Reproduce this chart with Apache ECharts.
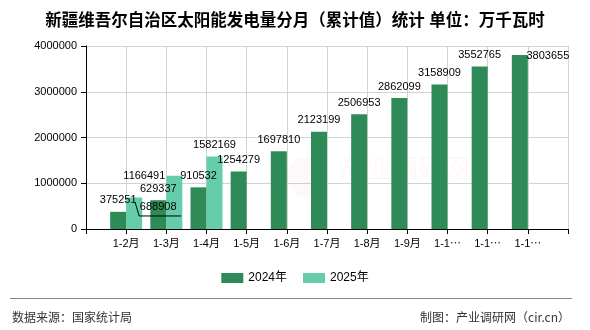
<!DOCTYPE html>
<html>
<head>
<meta charset="utf-8">
<script src="https://cdn.jsdelivr.net/npm/echarts@6/dist/echarts.min.js"></script>
<style>
html,body{margin:0;padding:0;background:#fff;}
#chart{width:590px;height:330px;}
</style>
</head>
<body>
<div id="chart"></div>
<script>
// ---- data ----
const titleText = '新疆维吾尔自治区太阳能发电量分月（累计值）统计 单位：万千瓦时';
const months = ['1-2月','1-3月','1-4月','1-5月','1-6月','1-7月','1-8月','1-9月','1-10月','1-11月','1-12月'];
const values2024 = [375251, 629337, 910532, 1254279, 1697810, 2123199, 2506953, 2862099, 3158909, 3552765, 3803655];
const values2025 = [688908, 1166491, 1582169];
const seriesNames = ['2024年', '2025年'];
const yTicks = [0, 1000000, 2000000, 3000000, 4000000];
const sourceText = '数据来源：国家统计局';
const creditText = '制图：产业调研网（cir.cn）';

// ---- build ----
const FONT = "'Liberation Sans', 'Noto Sans CJK SC', sans-serif";
const categories = [''].concat(months, ['']);
// label nudges (the reference has a few hand-moved labels)
const shift2024 = {'1-12月': [28, 12]};
const shift2025 = {'1-2月': [24, 21], '1-3月': [-30, 12]};
const leaderMonth = '1-2月';

function pad(vals) {
  const out = ['-'];
  for (let i = 0; i < months.length; i++) out.push(i < vals.length ? vals[i] : '-');
  out.push('-');
  return out;
}
function layoutFor(map) {
  return function (p) {
    const s = map[categories[p.dataIndex]];
    return s ? {dx: s[0], dy: s[1]} : {};
  };
}

const chart = echarts.init(document.getElementById('chart'), null, {renderer: 'canvas'});
chart.setOption({
  animation: false,
  backgroundColor: '#fff',
  title: {
    text: titleText,
    left: 'center',
    top: 8,
    textStyle: {fontFamily: FONT, fontSize: 16.5, fontWeight: 'bold', color: '#000'}
  },
  legend: {
    data: seriesNames,
    left: 'center',
    top: 267,
    itemWidth: 22,
    itemHeight: 10,
    itemGap: 16,
    icon: 'rect',
    textStyle: {fontFamily: FONT, fontSize: 12, color: '#000'}
  },
  grid: {left: 86, right: 22, top: 46, bottom: 101, containLabel: false},
  xAxis: {
    type: 'category',
    data: categories,
    boundaryGap: false,
    axisLine: {lineStyle: {color: '#000', width: 1}},
    axisTick: {show: true, length: 5, lineStyle: {color: '#000'}},
    axisLabel: {
      interval: 0, color: '#000', fontFamily: FONT, fontSize: 11, margin: 9,
      width: 30, overflow: 'truncate', ellipsis: '⋯'
    },
    splitLine: {show: true, lineStyle: {color: '#d3d3d3', width: 1}}
  },
  yAxis: {
    type: 'value',
    min: yTicks[0],
    max: yTicks[yTicks.length - 1],
    interval: yTicks[1] - yTicks[0],
    axisLine: {show: true, lineStyle: {color: '#000', width: 1}},
    axisTick: {show: true, length: 5, lineStyle: {color: '#000'}},
    axisLabel: {color: '#000', fontFamily: FONT, fontSize: 11, margin: 9, formatter: v => String(v)},
    splitLine: {show: true, lineStyle: {color: '#d3d3d3', width: 1}}
  },
  graphic: [
    {type: 'circle', shape: {cx: 307, cy: 177, r: 20}, style: {fill: 'rgba(230,120,120,0.045)'}, silent: true, z: 0},
    {type: 'text', left: 340, top: 155, style: {text: '产业调研网', font: '26px "Noto Sans CJK SC"', fill: 'rgba(230,120,120,0.05)'}, silent: true, z: 0},
    {type: 'line', shape: {x1: 10, y1: 298.5, x2: 572, y2: 298.5}, style: {stroke: '#888', lineWidth: 1}, silent: true},
    {type: 'text', left: 12, top: 311, style: {text: sourceText, font: '12px "Noto Sans CJK SC"', fill: '#333'}},
    {type: 'text', right: 20, top: 311, style: {text: creditText, font: '12px "Noto Sans CJK SC"', fill: '#333'}}
  ],
  series: [
    {
      name: seriesNames[0],
      type: 'bar',
      data: pad(values2024),
      barWidth: 16,
      barGap: '0%',
      itemStyle: {color: '#2E8B57'},
      label: {show: true, position: 'top', distance: 6, color: '#000', fontFamily: FONT, fontSize: 11},
      labelLayout: layoutFor(shift2024),
      z: 2
    },
    {
      name: seriesNames[1],
      type: 'bar',
      data: pad(values2025),
      barWidth: 16,
      barGap: '0%',
      itemStyle: {color: '#66CDAA'},
      label: {show: true, position: 'top', distance: 6, color: '#000', fontFamily: FONT, fontSize: 11},
      labelLayout: layoutFor(shift2025),
      z: 2
    }
  ]
});

// leader line from the moved 2025 label back to its bar, anchored on the library's own pixel mapping
const li = months.indexOf(leaderMonth);
const anchor = chart.convertToPixel({seriesIndex: 1}, [leaderMonth, values2025[li]]);
if (anchor) {
  const ax = anchor[0], ay = anchor[1];
  chart.setOption({
    graphic: [
      {type: 'circle', shape: {cx: 307, cy: 177, r: 20}, style: {fill: 'rgba(230,120,120,0.045)'}, silent: true, z: 0},
      {type: 'text', left: 340, top: 155, style: {text: '产业调研网', font: '26px "Noto Sans CJK SC"', fill: 'rgba(230,120,120,0.05)'}, silent: true, z: 0},
      {type: 'line', shape: {x1: 10, y1: 298.5, x2: 572, y2: 298.5}, style: {stroke: '#888', lineWidth: 1}, silent: true},
      {type: 'text', left: 12, top: 311, style: {text: sourceText, font: '12px "Noto Sans CJK SC"', fill: '#333'}},
      {type: 'text', right: 20, top: 311, style: {text: creditText, font: '12px "Noto Sans CJK SC"', fill: '#333'}},
      {type: 'polyline', z: 10, silent: true,
       shape: {points: [[ax + 9, ay + 5], [ax + 13, ay + 18.5], [ax + 55, ay + 18.5]]},
       style: {stroke: '#000', lineWidth: 1, fill: null}}
    ]
  }, {replaceMerge: ['graphic']});
}
</script>
</body>
</html>
